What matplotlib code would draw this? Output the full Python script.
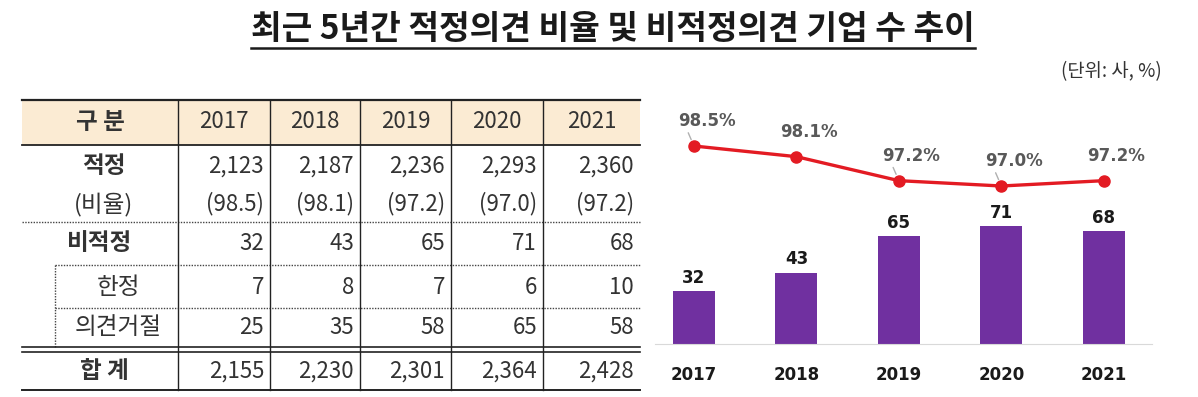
import matplotlib
matplotlib.use('Agg')
import matplotlib.pyplot as plt
import numpy as np

plt.rcParams['font.family'] = ['Noto Sans CJK KR', 'DejaVu Sans']

# data
years = ['2017', '2018', '2019', '2020', '2021']
adequate = [2123, 2187, 2236, 2293, 2360]
adequate_ratio = [98.5, 98.1, 97.2, 97.0, 97.2]
non_adequate = [32, 43, 65, 71, 68]
qualified = [7, 8, 7, 6, 10]
disclaimer = [25, 35, 58, 65, 58]
total = [2155, 2230, 2301, 2364, 2428]

title = '최근 5년간 적정의견 비율 및 비적정의견 기업 수 추이'
unit = '(단위: 사, %)'

W, H = 1198, 397
fig = plt.figure(figsize=(W / 100, H / 100), dpi=100)

# overlay in pixel coords for title + table
lay = fig.add_axes([0, 0, 1, 1])
lay.set_xlim(0, W)
lay.set_ylim(H, 0)
lay.axis('off')

t = lay.text(613, 30, title, ha='center', va='center', fontsize=24,
             fontweight='bold', color='#1a1a1a')
fig.canvas.draw()
bb = t.get_window_extent(fig.canvas.get_renderer())
lay.plot([bb.x0, bb.x1], [48, 48], color='#1a1a1a', lw=1.8)

lay.text(1162, 72, unit, ha='right', va='center', fontsize=13.5, color='#333333')

# table
txt = '#333333'
col_edges = [22, 178, 270, 360, 451, 543, 640]
left, right = col_edges[0], col_edges[-1]
top, bottom = 100, 390

lay.fill_between([left, right], 100, 145, color='#FBEBD3', lw=0)
lay.plot([left, right], [top, top], color='#222222', lw=1.6)
lay.plot([left, right], [145, 145], color='#222222', lw=1.3)
lay.plot([left, right], [222, 222], color='#444444', lw=1.0, ls=(0, (1, 1)))
lay.plot([55, right], [265, 265], color='#444444', lw=1.0, ls=(0, (1, 1)))
lay.plot([55, right], [308, 308], color='#444444', lw=1.0, ls=(0, (1, 1)))
lay.plot([55, 55], [265, 347], color='#444444', lw=1.0, ls=(0, (1, 1)))
lay.plot([left, right], [347, 347], color='#222222', lw=1.2)
lay.plot([left, right], [352, 352], color='#222222', lw=1.2)
lay.plot([left, right], [bottom, bottom], color='#222222', lw=1.4)
for xe in col_edges[1:-1]:
    lay.plot([xe, xe], [top, bottom], color='#222222', lw=1.0)

fs = 16
lay.text(100, 122, '구 분', ha='center', va='center', fontsize=fs + 1,
         fontweight='bold', color=txt)
for i, y in enumerate(years):
    cx = (col_edges[i + 1] + col_edges[i + 2]) / 2
    lay.text(cx, 122, y, ha='center', va='center', fontsize=fs, color=txt)

rows = [
    ('적정', 166, 104, True, [f'{v:,}' for v in adequate]),
    ('(비율)', 204, 104, False, [f'({v:.1f})' for v in adequate_ratio]),
    ('비적정', 243, 100, True, [str(v) for v in non_adequate]),
    ('한정', 287, 118, False, [str(v) for v in qualified]),
    ('의견거절', 328, 118, False, [str(v) for v in disclaimer]),
    ('합 계', 371, 104, True, [f'{v:,}' for v in total]),
]
for label, ry, lx, bold, vals in rows:
    lay.text(lx, ry, label, ha='center', va='center', fontsize=fs + 1,
             fontweight='bold' if bold else 'normal', color=txt)
    for i, v in enumerate(vals):
        lay.text(col_edges[i + 2] - 6, ry, v, ha='right', va='center',
                 fontsize=fs, color=txt)

# chart
ax = fig.add_axes([655 / W, 53 / H, 497 / W, 244 / H])
x = np.arange(len(years))
ax.bar(x, non_adequate, width=0.41, color='#7030A0')
ax.set_xlim(-0.38, 4.47)
ax.set_ylim(0, 147)
for s in ['top', 'right', 'left']:
    ax.spines[s].set_visible(False)
ax.spines['bottom'].set_color('#D9D9D9')
ax.set_yticks([])
ax.set_xticks(x, years)
ax.tick_params(axis='x', length=0, pad=16)
for lbl in ax.get_xticklabels():
    lbl.set_family('DejaVu Sans')
    lbl.set_fontweight('bold')
    lbl.set_fontsize(12)
    lbl.set_color('#1a1a1a')
for xi, v in zip(x, non_adequate):
    ax.annotate(str(v), (xi, v), xytext=(0, 3), textcoords='offset points',
                ha='center', va='bottom', fontsize=12, fontweight='bold',
                family='DejaVu Sans', color='#1a1a1a')

ax2 = ax.twinx()
ax2.set_ylim(91.075, 100.225)
ax2.axis('off')
ax2.plot(x, adequate_ratio, color='#E31B23', lw=2.4, marker='o', ms=8)
leaders = [0, 2, 3]
for i, (xi, v) in enumerate(zip(x, adequate_ratio)):
    props = None
    if i in leaders:
        props = dict(arrowstyle='-', color='#B0B0B0', lw=1, relpos=(0.15, 0.1),
                     shrinkA=0, shrinkB=5)
    ax2.annotate(f'{v:.1f}%', (xi, v), xytext=(9, 18), textcoords='offset points',
                 ha='center', va='center', fontsize=12, fontweight='bold',
                 family='DejaVu Sans', color='#595959', arrowprops=props)

fig.savefig('out.png', dpi=100)
